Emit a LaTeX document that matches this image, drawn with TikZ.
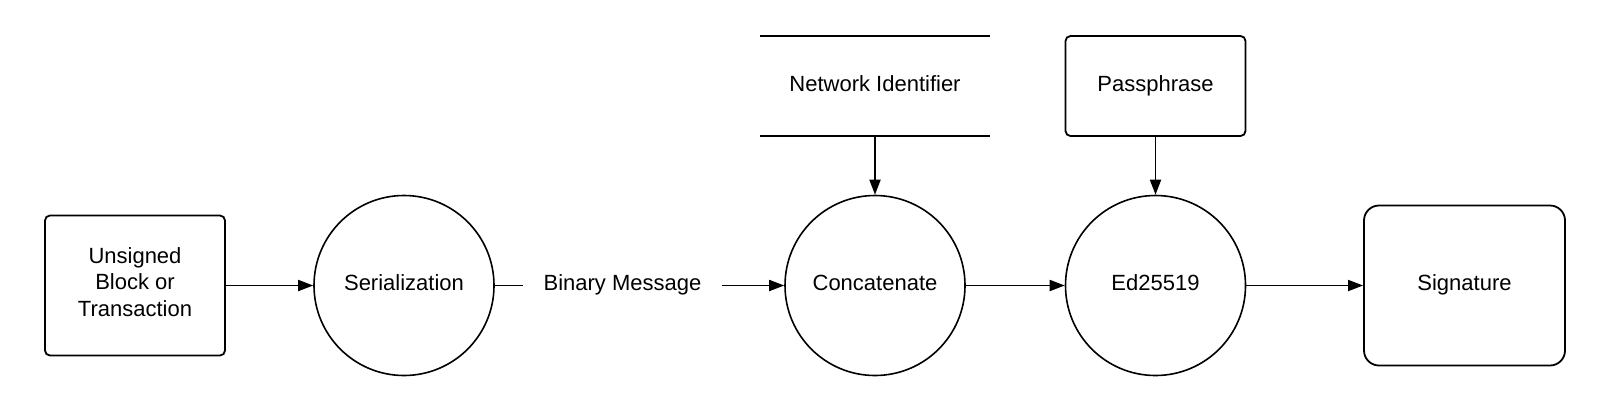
\documentclass[tikz,border=0pt]{standalone}
\usepackage{fontspec}
\setmainfont{Liberation Sans}
\usetikzlibrary{arrows.meta}
\begin{document}
\begin{tikzpicture}[x=1pt,y=-1pt,
  every node/.style={font=\fontsize{22}{26.6}\selectfont, align=center, inner sep=0pt},
  one/.style={text height=16pt, text depth=6pt},
  rbox/.style={draw, line width=1.8pt, rounded corners=5pt},
  proc/.style={draw, circle, line width=1.6pt, minimum size=180pt, one},
  conn/.style={line width=1.8pt},
  arr/.style={conn, -{Triangle[length=15pt,width=11pt]}}
]
\useasboundingbox (0,0) rectangle (1602,405);
\node[rbox, minimum width=180pt, minimum height=140pt] (src) at (135,285.5) {Unsigned\\Block or\\Transaction\rule[-7pt]{0pt}{7pt}};
\node[proc] (ser) at (404,285.5) {Serialization};
\node[one, inner xsep=20pt, inner ysep=4pt] (msg) at (622.5,285.5) {Binary Message};
\node[proc] (cat) at (875,285.5) {Concatenate};
\node[one, minimum width=230pt, minimum height=100pt] (ni) at (875,86) {Network Identifier};
\draw[conn] (ni.north west) -- (ni.north east);
\draw[conn] (ni.south west) -- (ni.south east);
\node[rbox, one, minimum width=180pt, minimum height=100pt] (pass) at (1155.5,86) {Passphrase};
\node[proc] (ed) at (1155.5,285.5) {Ed25519};
\node[rbox, one, rounded corners=15pt, minimum width=201pt, minimum height=160pt] (sig) at (1464.5,285.5) {Signature};
\draw[arr] (src) -- (ser);
\draw[conn] (ser) -- (msg);
\draw[arr] (msg) -- (cat);
\draw[arr] (ni) -- (cat);
\draw[arr] (cat) -- (ed);
\draw[arr] (pass) -- (ed);
\draw[arr] (ed) -- (sig);
\end{tikzpicture}
\end{document}
